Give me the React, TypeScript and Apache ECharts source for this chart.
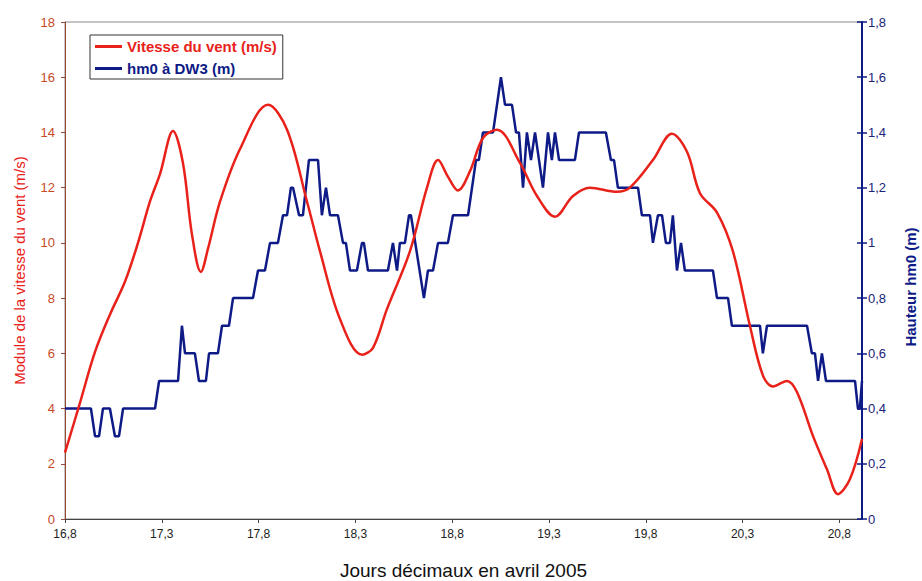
import React, { useEffect, useRef } from 'react';
import * as echarts from 'echarts';

// Jour décimal (avril 2005) -> module de la vitesse du vent (m/s)
const windData: [number, number][] = [
  [16.8, 2.4], [16.877, 4.2], [16.955, 6.05], [17.032, 7.4], [17.11, 8.6],
  [17.177, 10.0], [17.239, 11.5], [17.291, 12.5], [17.358, 14.05], [17.409, 12.9],
  [17.456, 10.3], [17.502, 8.95], [17.539, 9.8], [17.601, 11.5], [17.704, 13.4],
  [17.849, 15.0], [17.947, 14.1], [18.05, 11.5], [18.117, 9.7], [18.22, 7.25],
  [18.334, 5.95], [18.391, 6.2], [18.463, 7.6], [18.582, 9.7], [18.67, 12.0],
  [18.727, 13.0], [18.778, 12.4], [18.83, 11.9], [18.892, 12.6], [18.959, 13.8],
  [19.031, 14.1], [19.15, 12.9], [19.238, 11.7], [19.331, 10.95], [19.424, 11.7],
  [19.512, 12.0], [19.651, 11.85], [19.718, 12.0], [19.837, 13.0], [19.935, 13.95],
  [20.013, 13.3], [20.08, 11.8], [20.168, 11.1], [20.25, 9.7], [20.338, 7.0],
  [20.405, 5.2], [20.457, 4.8], [20.529, 5.0], [20.581, 4.6], [20.664, 3.0],
  [20.736, 1.8], [20.793, 0.9], [20.855, 1.45], [20.917, 2.9],
];

// Jour décimal -> hm0 à DW3 (m)
const hm0Data: [number, number][] = [
  [16.8, 0.4], [16.934, 0.4], [16.955, 0.3], [16.976, 0.3], [16.996, 0.4],
  [17.032, 0.4], [17.058, 0.3], [17.079, 0.3], [17.1, 0.4], [17.265, 0.4],
  [17.286, 0.5], [17.384, 0.5], [17.404, 0.7], [17.42, 0.6], [17.471, 0.6],
  [17.492, 0.5], [17.528, 0.5], [17.544, 0.6], [17.59, 0.6], [17.611, 0.7],
  [17.647, 0.7], [17.668, 0.8], [17.771, 0.8], [17.797, 0.9], [17.833, 0.9],
  [17.859, 1.0], [17.9, 1.0], [17.926, 1.1], [17.947, 1.1], [17.967, 1.2],
  [17.978, 1.2], [18.009, 1.1], [18.029, 1.1], [18.06, 1.3], [18.107, 1.3],
  [18.127, 1.1], [18.148, 1.2], [18.169, 1.1], [18.21, 1.1], [18.236, 1.0],
  [18.251, 1.0], [18.272, 0.9], [18.308, 0.9], [18.334, 1.0], [18.344, 1.0],
  [18.365, 0.9], [18.468, 0.9], [18.494, 1.0], [18.515, 0.9], [18.53, 1.0],
  [18.556, 1.0], [18.577, 1.1], [18.587, 1.1], [18.654, 0.8], [18.675, 0.9],
  [18.701, 0.9], [18.727, 1.0], [18.778, 1.0], [18.804, 1.1], [18.882, 1.1],
  [18.923, 1.3], [18.938, 1.3], [18.959, 1.4], [19.011, 1.4], [19.052, 1.6],
  [19.073, 1.5], [19.109, 1.5], [19.13, 1.4], [19.145, 1.4], [19.166, 1.2],
  [19.186, 1.4], [19.207, 1.3], [19.228, 1.4], [19.269, 1.2], [19.295, 1.4],
  [19.315, 1.3], [19.331, 1.4], [19.352, 1.3], [19.434, 1.3], [19.455, 1.4],
  [19.594, 1.4], [19.62, 1.3], [19.636, 1.3], [19.656, 1.2], [19.76, 1.2],
  [19.78, 1.1], [19.822, 1.1], [19.837, 1.0], [19.863, 1.1], [19.884, 1.1],
  [19.904, 1.0], [19.925, 1.0], [19.94, 1.1], [19.961, 0.9], [19.982, 1.0],
  [20.002, 0.9], [20.147, 0.9], [20.168, 0.8], [20.225, 0.8], [20.245, 0.7],
  [20.39, 0.7], [20.405, 0.6], [20.426, 0.7], [20.633, 0.7], [20.658, 0.6],
  [20.674, 0.6], [20.69, 0.5], [20.71, 0.6], [20.731, 0.5], [20.881, 0.5],
  [20.896, 0.4], [20.906, 0.4], [20.917, 0.5],
];

const xTicks = [16.8, 17.3, 17.8, 18.3, 18.8, 19.3, 19.8, 20.3, 20.8];
const windName = 'Vitesse du vent (m/s)';
const hm0Name = 'hm0 à DW3 (m)';

const RED = '#e8221a';
const NAVY = '#0e1a86';
const FONT = '"Liberation Sans", Arial, sans-serif';
const NARROW = '"Liberation Sans Narrow", "Liberation Sans", Arial, sans-serif';

const comma = (v: number) => String(+v.toFixed(1)).replace('.', ',');

export default function App() {
  const ref = useRef<HTMLDivElement>(null);
  useEffect(() => {
    if (!ref.current) return;
    const chart = echarts.init(ref.current, undefined, { renderer: 'svg' });
    chart.setOption({
      animation: false,
      backgroundColor: '#ffffff',
      grid: {
        left: 65, right: 60, top: 22, bottom: 62,
        outerBoundsMode: 'none', containLabel: false,
        show: true, borderColor: '#8a8a8a', borderWidth: 1, backgroundColor: 'transparent',
      },
      legend: {
        orient: 'vertical', left: 90, top: 35,
        borderColor: '#333', borderWidth: 1, padding: [4, 6, 3, 5],
        itemGap: 7, itemWidth: 27, itemHeight: 3, icon: 'rect',
        textStyle: { fontFamily: FONT, fontWeight: 'bold', fontSize: 15 },
        data: [
          { name: windName, textStyle: { color: RED } },
          { name: hm0Name, textStyle: { color: NAVY } },
        ],
      },
      xAxis: {
        type: 'value', min: 16.8, max: 20.917,
        name: 'Jours décimaux en avril 2005', nameLocation: 'middle', nameGap: 42,
        nameTextStyle: { fontFamily: NARROW, fontSize: 19, color: '#111' },
        axisLine: { lineStyle: { color: '#444', width: 1 } },
        axisTick: { customValues: xTicks, length: 4, lineStyle: { color: '#444' } },
        axisLabel: {
          customValues: xTicks, formatter: (v: number) => comma(v),
          fontFamily: NARROW, fontSize: 12, color: '#222', margin: 9,
        },
        splitLine: { show: false },
      },
      yAxis: [
        {
          type: 'value', min: 0, max: 18, interval: 2, position: 'left',
          name: 'Module de la vitesse du vent (m/s)', nameLocation: 'middle', nameGap: 38,
          nameTextStyle: { fontFamily: FONT, fontSize: 15, color: RED },
          axisLine: { show: true, lineStyle: { color: '#9a4a32', width: 1 } },
          axisTick: { show: true, length: 4, lineStyle: { color: '#9a4a32' } },
          axisLabel: { fontFamily: FONT, fontSize: 13, color: '#c84a26', margin: 10 },
          splitLine: { show: false },
        },
        {
          type: 'value', min: 0, max: 1.8, interval: 0.2, position: 'right',
          axisLine: { show: true, lineStyle: { color: NAVY, width: 2 } },
          axisTick: { show: true, length: 5, lineStyle: { color: NAVY, width: 1.5 } },
          axisLabel: {
            formatter: (v: number) => comma(v),
            fontFamily: FONT, fontSize: 13, color: '#1a2478', margin: 6,
          },
          splitLine: { show: false },
        },
        {
          type: 'value', min: 0, max: 1.8, interval: 0.2, position: 'right',
          axisLine: { show: false },
          axisTick: { show: true, inside: true, length: 5, lineStyle: { color: NAVY, width: 1.5 } },
          axisLabel: { show: false },
          splitLine: { show: false },
        },
      ],
      graphic: [
        {
          type: 'text', x: 910, y: 287, rotation: Math.PI / 2,
          style: {
            text: 'Hauteur hm0 (m)', font: `bold 15px ${FONT}`, fill: NAVY,
            align: 'center', verticalAlign: 'middle',
          },
        },
      ],
      series: [
        {
          name: windName, type: 'line', yAxisIndex: 0, data: windData,
          smooth: 0.35, showSymbol: false, symbol: 'none',
          lineStyle: { color: RED, width: 2.5 }, itemStyle: { color: RED },
          z: 3,
        },
        {
          name: hm0Name, type: 'line', yAxisIndex: 1, data: hm0Data,
          showSymbol: false, symbol: 'none',
          lineStyle: { color: NAVY, width: 2.5 }, itemStyle: { color: NAVY },
          z: 2,
        },
      ],
    });
    return () => chart.dispose();
  }, []);
  return (
    <div
      ref={ref}
      style={{ position: 'fixed', left: 0, top: 0, width: 922, height: 581, background: '#fff' }}
    />
  );
}
